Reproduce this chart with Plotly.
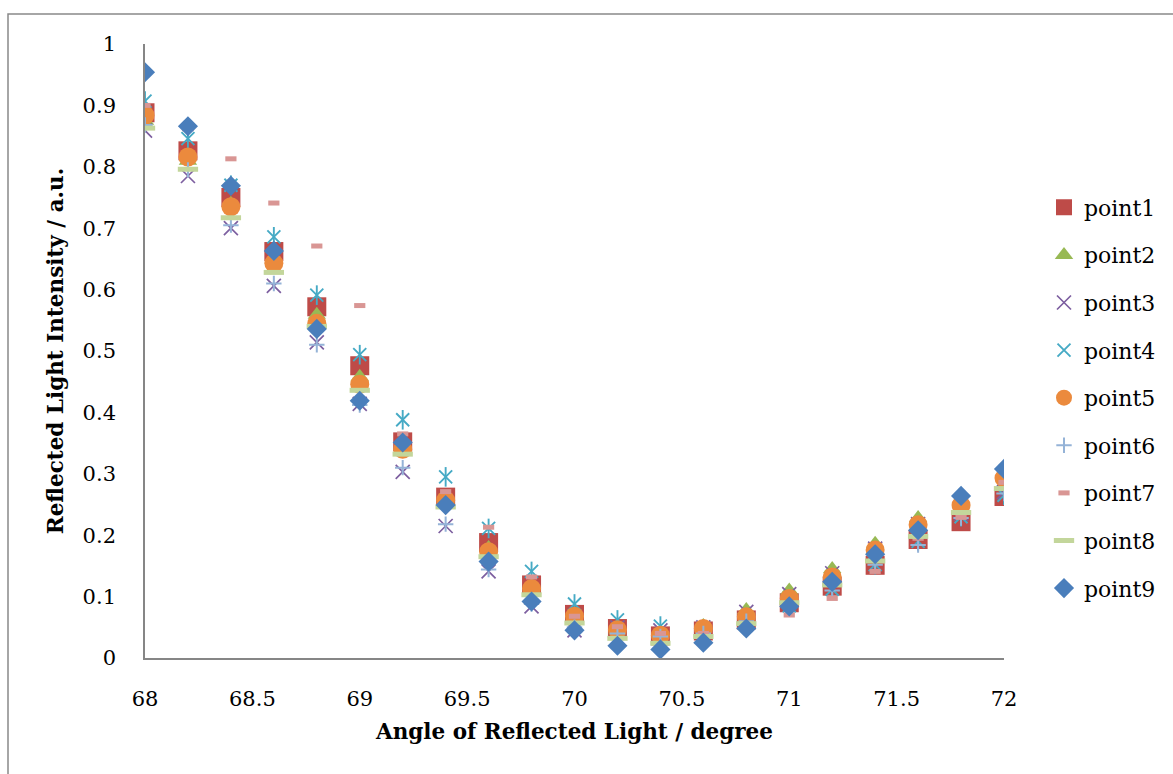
import plotly.graph_objects as go

angles = [68.0, 68.2, 68.4, 68.6, 68.8, 69.0, 69.2, 69.4, 69.6, 69.8, 70.0,
          70.2, 70.4, 70.6, 70.8, 71.0, 71.2, 71.4, 71.6, 71.8, 72.0]

point1 = [0.888, 0.826, 0.750, 0.662, 0.572, 0.476, 0.352, 0.262, 0.188, 0.119, 0.071,
          0.048, 0.036, 0.044, 0.062, 0.090, 0.117, 0.151, 0.193, 0.222, 0.263]
point2 = [0.875, 0.810, 0.740, 0.650, 0.559, 0.458, 0.345, 0.255, 0.179, 0.110, 0.065,
          0.045, 0.040, 0.052, 0.078, 0.110, 0.145, 0.186, 0.228, 0.240, 0.280]
point3 = [0.859, 0.785, 0.700, 0.606, 0.514, 0.414, 0.303, 0.215, 0.141, 0.084, 0.045,
          0.050, 0.045, 0.050, 0.075, 0.104, 0.138, 0.178, 0.218, 0.235, 0.270]
point4 = [0.907, 0.846, 0.770, 0.686, 0.591, 0.494, 0.388, 0.295, 0.211, 0.141, 0.088,
          0.062, 0.052, 0.045, 0.060, 0.085, 0.112, 0.152, 0.190, 0.230, 0.265]
point5 = [0.884, 0.816, 0.735, 0.643, 0.545, 0.446, 0.340, 0.257, 0.173, 0.113, 0.068,
          0.046, 0.037, 0.048, 0.067, 0.097, 0.132, 0.176, 0.217, 0.249, 0.293]
point6 = [0.868, 0.795, 0.705, 0.610, 0.510, 0.412, 0.310, 0.218, 0.144, 0.088, 0.050,
          0.040, 0.035, 0.040, 0.060, 0.085, 0.110, 0.152, 0.184, 0.228, 0.268]
point7 = [0.900, 0.862, 0.813, 0.741, 0.671, 0.574, 0.365, 0.271, 0.213, 0.132, 0.068,
          0.051, 0.040, 0.040, 0.046, 0.070, 0.097, 0.141, 0.195, 0.229, 0.286]
point8 = [0.863, 0.796, 0.717, 0.628, 0.540, 0.436, 0.332, 0.246, 0.165, 0.103, 0.057,
          0.032, 0.024, 0.035, 0.056, 0.090, 0.119, 0.158, 0.198, 0.237, 0.276]
point9 = [0.954, 0.866, 0.769, 0.663, 0.536, 0.419, 0.351, 0.249, 0.157, 0.092, 0.045,
          0.020, 0.014, 0.025, 0.048, 0.084, 0.124, 0.169, 0.208, 0.264, 0.308]

x_ticks = [68, 68.5, 69, 69.5, 70, 70.5, 71, 71.5, 72]
x_ticktext = ["68", "68.5", "69", "69.5", "70", "70.5", "71", "71.5", "72"]
y_ticks = [0, 0.1, 0.2, 0.3, 0.4, 0.5, 0.6, 0.7, 0.8, 0.9, 1]
y_ticktext = ["0", "0.1", "0.2", "0.3", "0.4", "0.5", "0.6", "0.7", "0.8", "0.9", "1"]

FONT = "DejaVu Serif"

W, H = 1173, 774
L, R, T, B = 145, 169, 44, 116
PW, PH = W - L - R, H - T - B

fig = go.Figure()

def add(name, y, symbol, color, size, lw=0, open_=False, show=True):
    if open_:
        marker = dict(symbol=symbol, size=size, color=color,
                      line=dict(color=color, width=lw))
    else:
        marker = dict(symbol=symbol, size=size, color=color, line=dict(width=0))
    fig.add_trace(go.Scatter(x=angles, y=y, mode="markers", name=name,
                             legendgroup=name, showlegend=show, marker=marker))

add("point1", point1, "square", "#BE4B48", 19)
add("point2", point2, "triangle-up", "#98B954", 16)
add("point3", point3, "x-thin-open", "#7D5FA0", 14, lw=1.7, open_=True)
add("point4", point4, "x-thin-open", "#46AAC5", 13, lw=1.9, open_=True)
add("point4", point4, "line-ns-open", "#46AAC5", 14, lw=1.9, open_=True, show=False)
add("point5", point5, "circle", "#EB8A3D", 19)
add("point6", point6, "cross-thin-open", "#95B3D7", 11, lw=2, open_=True)
add("point7", point7, "line-ew-open", "#D99694", 8, lw=5, open_=True)
add("point8", point8, "line-ew-open", "#C3D69B", 14.5, lw=5, open_=True)
add("point9", point9, "diamond", "#4A7EBB", 15.5)

fig.update_layout(
    width=W, height=H,
    margin=dict(l=L, r=R, t=T, b=B, pad=0),
    paper_bgcolor="white", plot_bgcolor="white",
    font=dict(family=FONT, size=21, color="black"),
    showlegend=True,
    legend=dict(x=(1044 - L) / PW, xanchor="left",
                y=(658 - 398) / PH, yanchor="middle",
                font=dict(family=FONT, size=22, color="black"),
                traceorder="grouped", tracegroupgap=16,
                bgcolor="rgba(0,0,0,0)", itemsizing="trace"),
    xaxis=dict(range=[68, 72], tickmode="array", tickvals=x_ticks, ticktext=x_ticktext,
               showgrid=False, zeroline=False, showline=True, linecolor="#868686",
               linewidth=1.6, ticks="", ticklabelstandoff=21,
               tickfont=dict(family=FONT, size=21),
               title=dict(text="<b>Angle of Reflected Light / degree</b>",
                          font=dict(family=FONT, size=21.5), standoff=14)),
    yaxis=dict(range=[0, 1], tickmode="array", tickvals=y_ticks, ticktext=y_ticktext,
               showgrid=False, zeroline=False, showline=True, linecolor="#868686",
               linewidth=1.6, ticks="", ticklabelstandoff=23,
               tickfont=dict(family=FONT, size=21),
               title=dict(text="<b>Reflected Light Intensity / a.u.</b>",
                          font=dict(family=FONT, size=21.5), standoff=13)),
    shapes=[dict(type="rect", xref="paper", yref="paper",
                 x0=(8 - L) / PW, x1=(1185 - L) / PW,
                 y0=(658 - 790) / PH, y1=(658 - 14) / PH,
                 line=dict(color="#898989", width=1.5), fillcolor="rgba(0,0,0,0)",
                 layer="below")],
)

fig.write_html("out.html")
